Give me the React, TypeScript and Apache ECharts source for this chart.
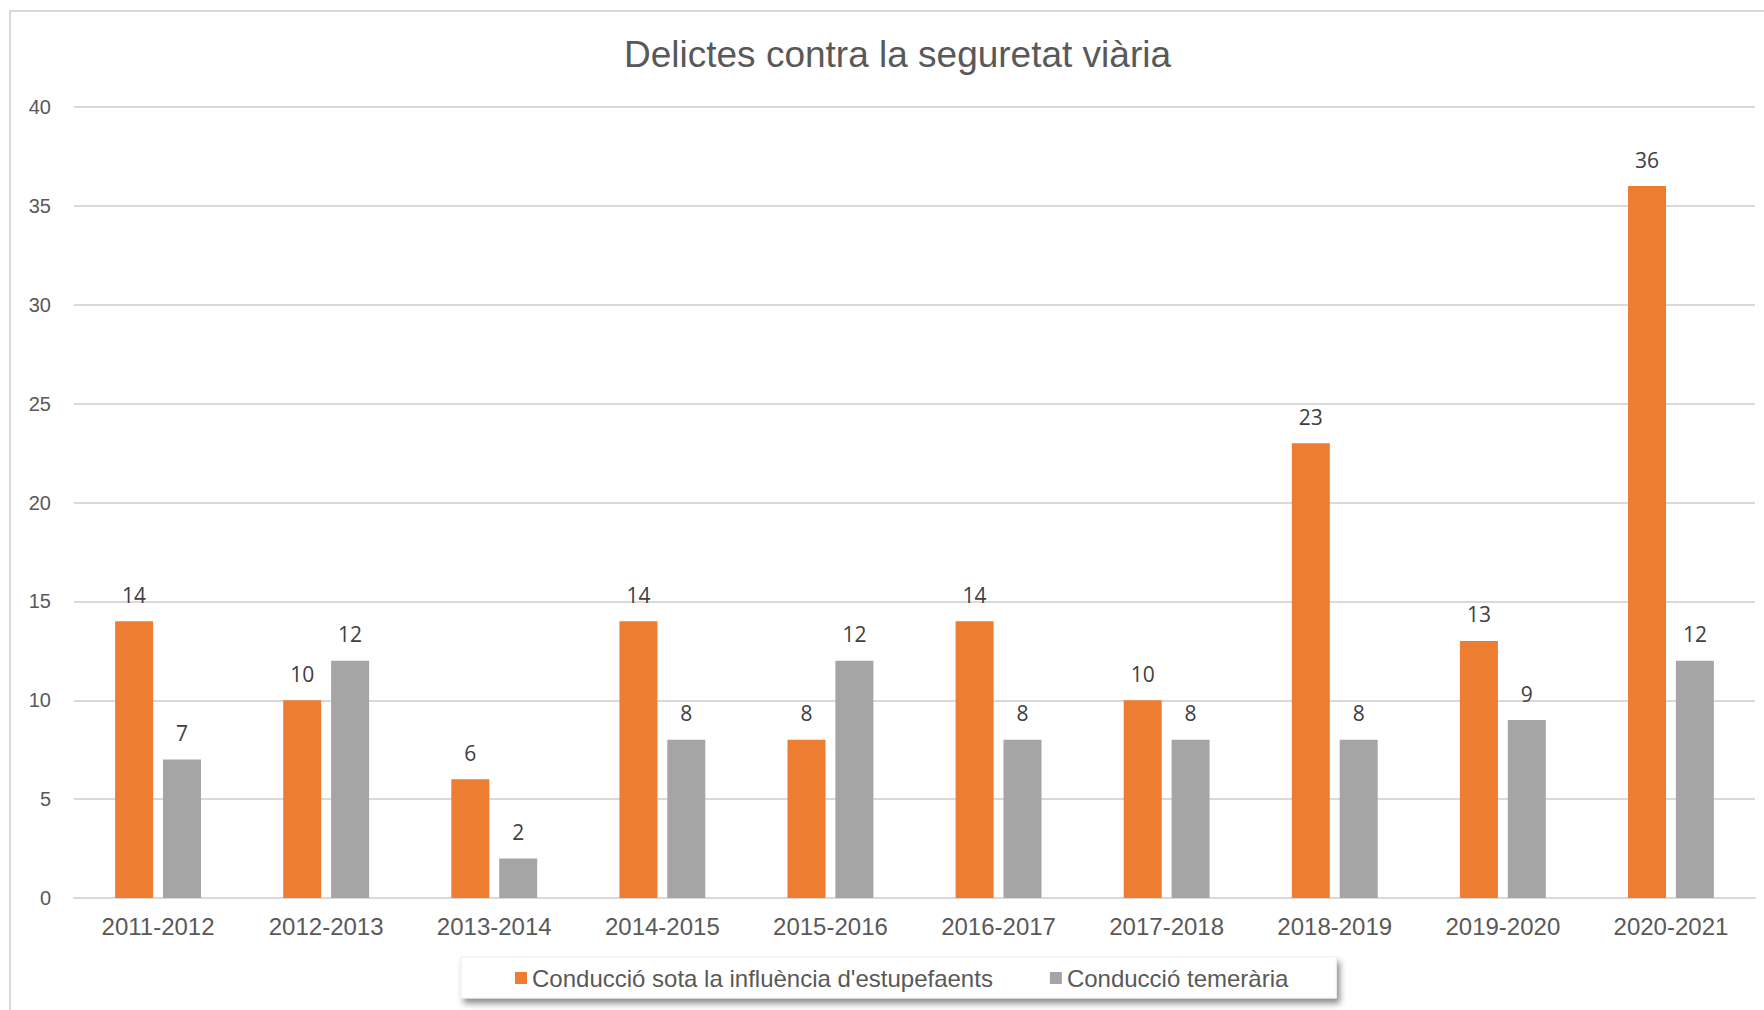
import React, { useEffect, useRef } from "react";
import * as echarts from "echarts";

const categories = [
  "2011-2012",
  "2012-2013",
  "2013-2014",
  "2014-2015",
  "2015-2016",
  "2016-2017",
  "2017-2018",
  "2018-2019",
  "2019-2020",
  "2020-2021",
];
const seriesNames = [
  "Conducció sota la influència d'estupefaents",
  "Conducció temerària",
];
const drugsValues = [14, 10, 6, 14, 8, 14, 10, 23, 13, 36];
const recklessValues = [7, 12, 2, 8, 12, 8, 8, 8, 9, 12];
const titleText = "Delictes contra la seguretat viària";

export default function App() {
  const ref = useRef<HTMLDivElement>(null);
  useEffect(() => {
    if (!ref.current) return;
    document.body.style.margin = "0";
    const chart = echarts.init(ref.current, undefined, { renderer: "svg" });
    const sans = "'Liberation Sans', Arial, sans-serif";
    const labelStyle = {
      show: true,
      position: "top" as const,
      distance: 16,
      color: "#404040",
      fontSize: 21,
      fontFamily: "'Open Sans', sans-serif",
    };
    chart.setOption({
      animation: false,
      backgroundColor: "#ffffff",
      title: {
        text: titleText,
        left: 619,
        top: 31,
        textStyle: {
          fontSize: 37,
          fontWeight: "normal",
          color: "#595959",
          fontFamily: sans,
        },
      },
      graphic: [
        {
          type: "rect",
          shape: { x: 10, y: 11, width: 1800, height: 1100 },
          style: { fill: "none", stroke: "#d9d9d9", lineWidth: 2 },
          silent: true,
          z: -1,
        },
      ],
      legend: {
        left: 461,
        top: 957,
        icon: "rect",
        itemWidth: 12,
        itemHeight: 12,
        itemGap: 57,
        padding: [9, 48, 8, 54],
        backgroundColor: "#ffffff",
        borderColor: "#eeeeee",
        borderWidth: 1,
        shadowBlur: 6,
        shadowColor: "rgba(0,0,0,0.45)",
        shadowOffsetX: 3,
        shadowOffsetY: 5,
        textStyle: { fontSize: 24, color: "#595959", fontFamily: sans },
        data: seriesNames,
      },
      grid: { left: 74, right: 9, top: 107, bottom: 112 },
      xAxis: {
        type: "category",
        data: categories,
        axisTick: { show: false },
        axisLine: { lineStyle: { color: "#d9d9d9", width: 2 } },
        axisLabel: {
          fontSize: 24,
          color: "#595959",
          fontFamily: sans,
          margin: 16,
        },
      },
      yAxis: {
        type: "value",
        min: 0,
        max: 40,
        interval: 5,
        axisLine: { show: false },
        axisTick: { show: false },
        axisLabel: {
          fontSize: 20,
          color: "#595959",
          fontFamily: sans,
          margin: 23,
        },
        splitLine: { lineStyle: { color: "#d9d9d9", width: 2 } },
      },
      series: [
        {
          name: seriesNames[0],
          type: "bar",
          data: drugsValues,
          barWidth: 38,
          barGap: "26%",
          itemStyle: { color: "#ED7D31" },
          label: labelStyle,
        },
        {
          name: seriesNames[1],
          type: "bar",
          data: recklessValues,
          barWidth: 38,
          barGap: "26%",
          itemStyle: { color: "#A5A5A5" },
          label: labelStyle,
        },
      ],
    });
    return () => chart.dispose();
  }, []);
  return (
    <div
      ref={ref}
      style={{ position: "absolute", left: 0, top: 0, width: 1764, height: 1010 }}
    />
  );
}
